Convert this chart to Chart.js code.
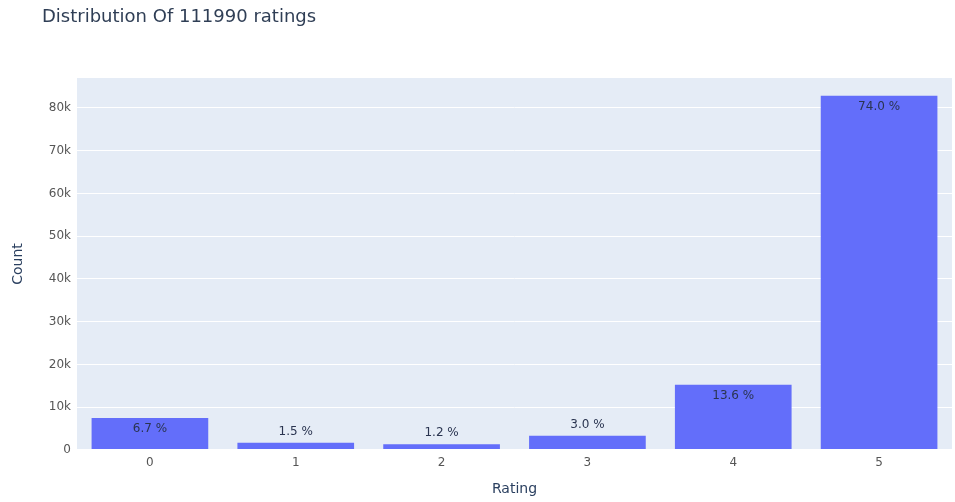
<!DOCTYPE html>
<html>
<head>
    <title>Distribution Of 111990 ratings</title>
    <script src="https://cdn.jsdelivr.net/npm/chart.js"></script>
    <style>
        body {
            margin: 0;
            padding: 0;
            background: #fff;
        }
        #chart-container {
            width: 955px;
            height: 502px;
        }
    </style>
</head>
<body>
    <div id="chart-container">
        <canvas id="myChart"></canvas>
    </div>

    <script>
        const titleText = 'Distribution Of 111990 ratings';
        const ratings = ['0', '1', '2', '3', '4', '5'];
        const counts = [7503, 1680, 1344, 3360, 15231, 82873];
        const percentLabels = ['6.7 %', '1.5 %', '1.2 %', '3.0 %', '13.6 %', '74.0 %'];
        const yTicks = [0, 10000, 20000, 30000, 40000, 50000, 60000, 70000, 80000];

        const fontFamily = "'DejaVu Sans', Verdana, sans-serif";

        // plot background + title
        const plotDecor = {
            id: 'plotDecor',
            beforeDraw(chart) {
                const { ctx, chartArea } = chart;
                ctx.save();
                ctx.fillStyle = '#e5ecf6';
                ctx.fillRect(chartArea.left, chartArea.top, chartArea.right - chartArea.left, chartArea.bottom - chartArea.top);
                ctx.restore();
            },
            afterDraw(chart) {
                const ctx = chart.ctx;
                ctx.save();
                ctx.fillStyle = '#2f3e55';
                ctx.font = '18px ' + fontFamily;
                ctx.textBaseline = 'middle';
                ctx.textAlign = 'left';
                ctx.fillText(titleText, 42, 17);
                ctx.restore();
            }
        };

        // percentage labels, inside the bar if it fits, else above
        const barText = {
            id: 'barText',
            afterDatasetsDraw(chart) {
                const ctx = chart.ctx;
                const meta = chart.getDatasetMeta(0);
                ctx.save();
                ctx.font = '12px ' + fontFamily;
                ctx.fillStyle = '#2a3450';
                ctx.textAlign = 'center';
                ctx.textBaseline = 'middle';
                meta.data.forEach((bar, i) => {
                    const h = bar.base - bar.y;
                    const y = h > 22 ? bar.y + 11 : bar.y - 11;
                    ctx.fillText(percentLabels[i], bar.x, y);
                });
                ctx.restore();
            }
        };

        new Chart(document.getElementById('myChart'), {
            type: 'bar',
            data: {
                labels: ratings,
                datasets: [{
                    data: counts,
                    backgroundColor: '#636efa',
                    borderWidth: 0,
                    categoryPercentage: 0.8,
                    barPercentage: 1.0
                }]
            },
            options: {
                responsive: true,
                maintainAspectRatio: false,
                animation: false,
                layout: { padding: { top: 78, right: 3, left: 0, bottom: 0 } },
                plugins: {
                    legend: { display: false },
                    tooltip: { enabled: false }
                },
                scales: {
                    x: {
                        grid: { display: false, drawTicks: false },
                        border: { display: false },
                        ticks: {
                            color: '#555',
                            font: { family: fontFamily, size: 12 },
                            padding: 6
                        },
                        title: {
                            display: true,
                            text: 'Rating',
                            color: '#2a3f5f',
                            font: { family: fontFamily, size: 14 },
                            padding: { top: 8 }
                        },
                        afterFit(scale) { scale.height = 52; }
                    },
                    y: {
                        min: 0,
                        max: 87000,
                        afterBuildTicks(scale) {
                            scale.ticks = yTicks.map(v => ({ value: v }));
                        },
                        grid: {
                            color: '#ffffff',
                            lineWidth: ctx => (ctx.tick && ctx.tick.value === 0 ? 2 : 1),
                            drawTicks: false
                        },
                        border: { display: false },
                        ticks: {
                            color: '#555',
                            font: { family: fontFamily, size: 12 },
                            padding: 6,
                            callback: v => (v === 0 ? '0' : (v / 1000) + 'k')
                        },
                        title: {
                            display: true,
                            text: 'Count',
                            color: '#2a3f5f',
                            font: { family: fontFamily, size: 14 },
                            padding: { top: 10, bottom: 6 }
                        },
                        afterFit(scale) { scale.width = 77; }
                    }
                }
            },
            plugins: [plotDecor, barText]
        });
    </script>
</body>
</html>
